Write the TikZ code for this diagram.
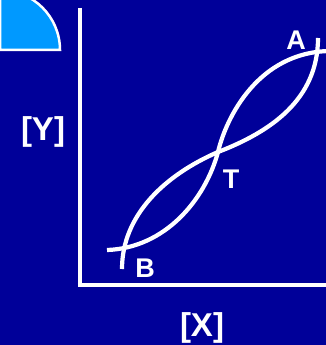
\documentclass[tikz,border=0pt]{standalone}
\usepackage{fontspec}
\setmainfont{Liberation Sans}
\definecolor{bgblue}{RGB}{0,0,153}
\definecolor{skyblue}{RGB}{0,153,255}
\tikzset{
  axisline/.style={white, line width=4.5pt},
  curveline/.style={white, line width=4.2pt},
  lbl/.style={text=white, font=\bfseries\fontsize{27}{27}\selectfont, inner sep=0pt},
  axlbl/.style={text=white, font=\bfseries\fontsize{33}{33}\selectfont, inner sep=0pt}
}
\begin{document}
\begin{tikzpicture}[x=1pt,y=-1pt]
\fill[bgblue] (0,0) rectangle (326,345);
\useasboundingbox (0,0) rectangle (326,345);
\begin{scope}
\clip (0,0) rectangle (326,345);
\filldraw[fill=skyblue, draw=white, line width=2.5pt] (0,50) -- (60,50) arc[start angle=0, end angle=-90, radius=60] -- cycle;
% axes
\coordinate (ytop) at (80,8);
\coordinate (origin) at (80,285);
\coordinate (xend) at (330,285);
\draw[axisline] (ytop) -- (80,287.25);
\draw[axisline] (77.75,285) -- (xend);
% curves
\coordinate (B1) at (107,250);
\coordinate (B2) at (122,269);
\coordinate (T0) at (218,152);
\coordinate (A1) at (330,51);
\coordinate (A2) at (318,38);
\draw[curveline] (B1) .. controls (165,248) and (205,200) .. (T0)
                      .. controls (226,118) and (258,52) .. (A1);
\draw[curveline] (B2) .. controls (122,215) and (165,175) .. (T0)
                      .. controls (270,132) and (318,100) .. (A2);
\end{scope}
\node[lbl] (A) at (296,40) {A};
\node[lbl] (T) at (231,179) {T};
\node[lbl] (B) at (145,268) {B};
\node[axlbl] (Y) at (43,132) {[Y]};
\node[axlbl] (X) at (202,328) {[X]};
\end{tikzpicture}
\end{document}
